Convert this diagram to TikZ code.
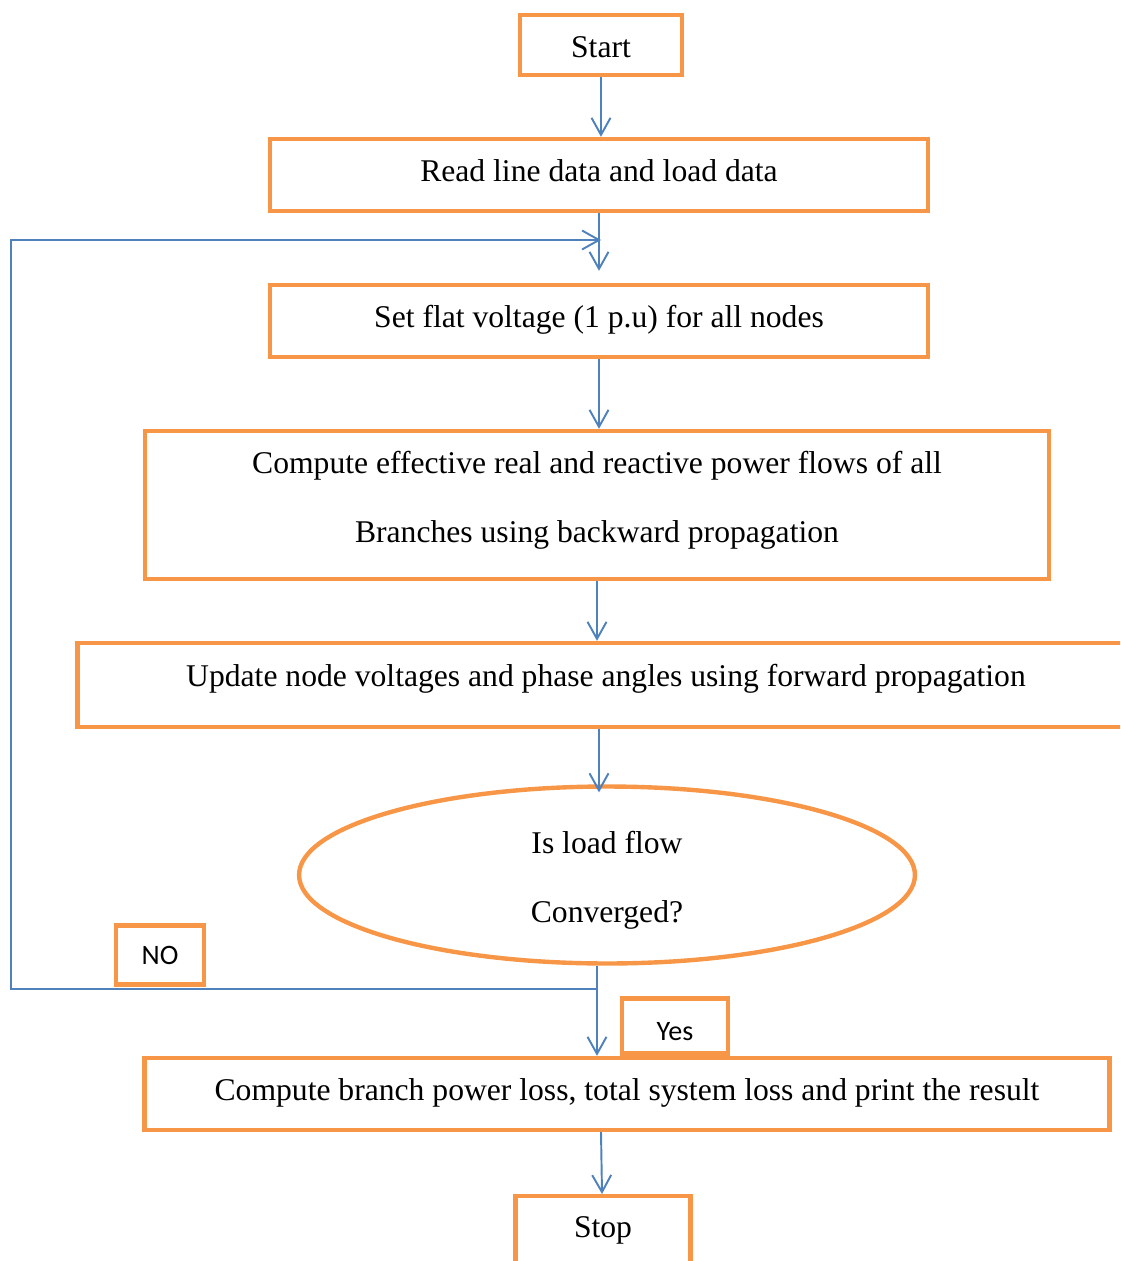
\documentclass[tikz,border=0pt]{standalone}
\usepackage{fontspec}
\setmainfont{Liberation Serif}
\newfontfamily\calibri{Carlito}
\usetikzlibrary{positioning,arrows.meta,shapes.geometric}
\definecolor{boxorange}{HTML}{F79646}
\definecolor{flowblue}{HTML}{4F81BD}

\begin{document}
\begin{tikzpicture}
      [x=0.02cm, y=-0.02cm, font=\fontsize{18}{39}\selectfont,
      % STYLES
      % The process style is used for the one-line steps of the load flow
      process/.style={rectangle, draw=boxorange, line width=2.5pt, inner sep=2pt, text depth=0.18cm, minimum height=1.44cm},
      % The bigProcess style is used for the two-line step
      bigProcess/.style={rectangle, draw=boxorange, line width=2.5pt, align=center},
      % The decision style
      decision/.style={ellipse, draw=boxorange, line width=2.5pt, align=center, inner sep=0pt},
      % The answer style is used for the NO / Yes tags
      answer/.style={rectangle, draw=boxorange, line width=2.5pt, font=\calibri\fontsize{16}{19}\selectfont},
      % The flow style is used for the connectors
      flow/.style={draw=flowblue, line width=1.1pt, -{Straight Barb[length=0.34cm,width=0.38cm]}}]

      \useasboundingbox (0,0) rectangle (1120,1261);
      \clip (0,0) rectangle (1120,1261);

      % Draw processes
      \node [process, minimum width=3.24cm, minimum height=1.2cm, text height=0.5cm, text depth=0cm] (start) at (601,45) {Start};
      \node [process, minimum width=13.16cm] (read) at (599,175) {Read line data and load data};
      \node [process, minimum width=13.16cm] (flat) at (599,321) {Set flat voltage (1 p.u) for all nodes};
      \node [bigProcess, minimum width=18.08cm, minimum height=2.96cm, text depth=0.32cm] (effective) at (597,505) {Compute effective real and reactive power flows of all\\Branches using backward propagation};
      \node [process, minimum width=21.14cm, minimum height=1.68cm, text depth=0.39cm] (update) at (606,685) {Update node voltages and phase angles using forward propagation};
      \node [decision, minimum width=12.32cm, minimum height=3.54cm, text height=1.9cm, text depth=0cm] (converged) at (607,875) {Is load flow\\Converged?};
      \node [process, minimum width=19.3cm] (branch) at (627,1094) {Compute branch power loss, total system loss and print the result};
      \node [process, anchor=north, minimum width=3.5cm, minimum height=0pt, inner ysep=0pt, text height=0.82cm, text depth=1.5cm] (stop) at (603,1194) {Stop};

      %%%%%%%%%%%%%%%
      % Answers
      \node [answer, minimum width=1.76cm, minimum height=1.18cm] (no) at (160,955) {NO};
      \node [answer, minimum width=2.12cm, minimum height=1.1cm, text height=0.56cm, text depth=0cm] (yes) at (675,1026) {Yes};

      %%%%%%%%%%%%%%%
      % Loop back when not converged
      \coordinate (noturn) at (597,989);
      \coordinate (loopbottom) at (11,989);
      \coordinate (looptop) at (11,240);
      \coordinate (loopin) at (601,240);
      \draw[flow] (noturn) -- (loopbottom) -- (looptop) -- (loopin);

      % Draw the links between processes
      \draw[flow] (start.south) -- (start.south |- read.north);
      \draw[flow, shorten >=0.24cm] (read.south) -- (read.south |- flat.north);
      \draw[flow] (flat.south) -- (flat.south |- effective.north);
      \draw[flow] (effective.south) -- (effective.south |- update.north);
      \draw[flow, shorten >=-0.16cm] (update.south -| read.south) -- (read.south |- converged.north);
      \draw[flow] (converged.south -| effective.south) -- (effective.south |- branch.north);
      \draw[flow] (branch.south -| start.south) -- (stop);

    \end{tikzpicture}
\end{document}
